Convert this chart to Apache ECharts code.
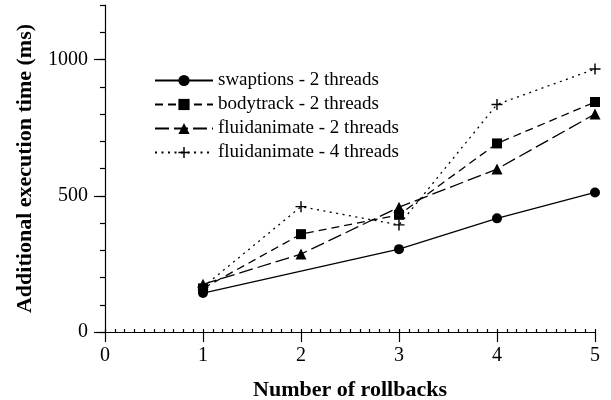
<!DOCTYPE html>
<html>
<head>
<meta charset="utf-8">
<script src="https://cdn.jsdelivr.net/npm/echarts@6/dist/echarts.min.js"></script>
<style>
html,body{margin:0;padding:0;background:#fff;}
#c{width:611px;height:400px;}
</style>
</head>
<body>
<div id="c"></div>
<script>
var seriesNames = ['swaptions - 2 threads', 'bodytrack - 2 threads', 'fluidanimate - 2 threads', 'fluidanimate - 4 threads'];
var swaptions2 = [[1, 143], [3, 304], [4, 417], [5, 512]];
var bodytrack2 = [[1, 160], [2, 359], [3, 430], [4, 692], [5, 844]];
var fluidanimate2 = [[1, 175], [2, 286], [3, 458], [4, 598], [5, 800]];
var fluidanimate4 = [[1, 165], [2, 460], [3, 393], [4, 835], [5, 965]];
var yMajorTicks = [0, 500, 1000];
var xTitle = 'Number of rollbacks';
var yTitle = 'Additional execution time (ms)';

var FONT = 'Liberation Serif';
var plusPath = 'path://M4.35,0 h1.3 v4.35 h4.35 v1.3 h-4.35 v4.35 h-1.3 v-4.35 h-4.35 v-1.3 h4.35 z';

function mk(name, data, symbol, size, dash) {
  return {
    name: name, type: 'line', data: data,
    xAxisIndex: 0, yAxisIndex: 0,
    symbol: symbol, symbolSize: size, showSymbol: true,
    itemStyle: {color: '#000', borderWidth: 0},
    lineStyle: {color: '#000', width: 1.3, type: dash},
    emphasis: {disabled: true},
    animation: false
  };
}

var chart = echarts.init(document.getElementById('c'), null, {renderer: 'canvas'});
chart.setOption({
  animation: false,
  backgroundColor: '#fff',
  textStyle: {fontFamily: FONT, color: '#000'},
  grid: {left: 105, right: 16, top: 5, bottom: 68, containLabel: false, outerBoundsMode: 'none'},
  legend: {
    orient: 'vertical', left: 149, top: 66,
    itemWidth: 58, itemHeight: 14, itemGap: 5,
    data: seriesNames,
    textStyle: {fontFamily: FONT, fontSize: 19, color: '#000', lineHeight: 19},
    inactiveColor: '#000'
  },
  xAxis: [{
    type: 'value', min: 0, max: 5, interval: 1,
    name: xTitle, nameLocation: 'middle', nameGap: 47,
    nameTextStyle: {fontFamily: FONT, fontSize: 22, fontWeight: 'bold', color: '#000'},
    axisLine: {show: true, onZero: false, lineStyle: {color: '#000', width: 1.2}},
    axisTick: {show: true, inside: false, length: 10, lineStyle: {color: '#000', width: 1.2}},
    axisLabel: {fontFamily: FONT, fontSize: 20, color: '#000', margin: 14},
    splitLine: {show: false}
  }, {
    type: 'value', min: 0, max: 5, interval: 0.1, position: 'bottom',
    axisLine: {show: false},
    axisTick: {show: true, inside: true, length: 3, lineStyle: {color: '#000', width: 1.2}},
    axisLabel: {show: false},
    splitLine: {show: false}
  }],
  yAxis: [{
    type: 'value', min: 0, max: 1200, interval: 500,
    name: yTitle, nameLocation: 'middle', nameGap: 69, nameRotate: 90,
    nameTextStyle: {fontFamily: FONT, fontSize: 22, fontWeight: 'bold', color: '#000'},
    axisLine: {show: true, onZero: false, lineStyle: {color: '#000', width: 1.2}},
    axisTick: {show: true, inside: false, length: 11, customValues: yMajorTicks, lineStyle: {color: '#000', width: 1.2}},
    axisLabel: {fontFamily: FONT, fontSize: 20, color: '#000', margin: 17, customValues: yMajorTicks,
      formatter: function (v) { return String(v); }},
    splitLine: {show: false}
  }, {
    type: 'value', min: 0, max: 1200, interval: 100, position: 'left',
    axisLine: {show: false},
    axisTick: {show: true, inside: false, length: 5, lineStyle: {color: '#000', width: 1.2}},
    axisLabel: {show: false},
    splitLine: {show: false}
  }],
  series: [
    mk(seriesNames[0], swaptions2, 'circle', 10, 'solid'),
    mk(seriesNames[1], bodytrack2, 'rect', 10, [8, 5]),
    mk(seriesNames[2], fluidanimate2, 'triangle', 11, [14, 5]),
    mk(seriesNames[3], fluidanimate4, plusPath, 11, [2, 4.5])
  ]
});
</script>
</body>
</html>
